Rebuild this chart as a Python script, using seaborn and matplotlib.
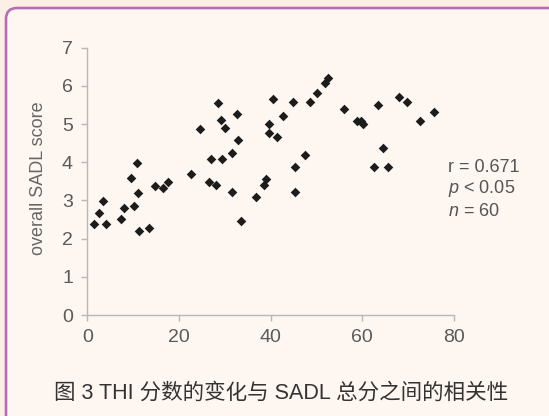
import matplotlib
matplotlib.use("Agg")
import matplotlib.pyplot as plt
from matplotlib.patches import FancyBboxPatch
from matplotlib.transforms import IdentityTransform
import seaborn as sns
import pandas as pd

# ---- data ----
thi_change = [1.5, 4.0, 2.6, 3.5, 7.4, 8.1, 9.6, 10.2, 10.9, 11.1, 11.3, 13.5,
              14.8, 16.5, 17.7, 22.6, 24.5, 26.5, 28.0, 27.0, 29.5, 28.6, 29.3,
              30.0, 32.6, 32.8, 31.7, 31.5, 33.5, 36.9, 38.6, 39.1, 39.7, 39.7,
              40.5, 45.0, 48.6, 50.1, 51.8, 52.6, 42.8, 41.5, 56.0, 58.9, 59.8,
              60.3, 63.5, 68.0, 69.9, 72.6, 75.6, 64.6, 62.6, 65.6, 47.6, 45.4,
              45.4]
sadl_score = [2.38, 2.38, 2.68, 2.99, 2.51, 2.79, 3.60, 2.85, 3.97, 3.20, 2.19,
              2.27, 3.38, 3.33, 3.49, 3.69, 4.87, 3.47, 3.40, 4.09, 4.09, 5.55,
              5.11, 4.89, 5.26, 4.58, 4.23, 3.23, 2.46, 3.09, 3.40, 3.55, 4.99,
              4.76, 5.65, 5.59, 5.59, 5.81, 6.08, 6.21, 5.22, 4.66, 5.39, 5.09,
              5.09, 4.99, 5.50, 5.70, 5.59, 5.09, 5.31, 4.37, 3.88, 3.88, 4.20,
              3.88, 3.22]
x_ticks = [0, 20, 40, 60, 80]
y_ticks = [0, 1, 2, 3, 4, 5, 6, 7]
y_label = "overall SADL score"
stats_lines = ["r = 0.671", "$p$ < 0.05", "$n$ = 60"]
caption = "图 3 THI 分数的变化与 SADL 总分之间的相关性"

df = pd.DataFrame({"thi": thi_change, "sadl": sadl_score})

sns.set_theme(style="ticks")
plt.rcParams["font.family"] = ["Liberation Sans", "Noto Sans CJK SC", "DejaVu Sans"]
plt.rcParams["mathtext.fontset"] = "custom"
plt.rcParams["mathtext.rm"] = "Liberation Sans"
plt.rcParams["mathtext.it"] = "Liberation Sans:italic"

W, H = 549, 416
fig = plt.figure(figsize=(W / 100, H / 100), dpi=100)
fig.patch.set_facecolor("#fcefe6")

frame = FancyBboxPatch((6, -60), 700, 408 + 60,
                       boxstyle="round,pad=0,rounding_size=11",
                       facecolor="#fdf6f1", edgecolor="#b56db5",
                       linewidth=1.9, transform=IdentityTransform(), zorder=0)
fig.add_artist(frame)

ax = fig.add_axes([87.3 / W, 1 - 315 / H, (453.7 - 87.3) / W, (315 - 47.7) / H])
ax.set_facecolor("none")

sns.scatterplot(data=df, x="thi", y="sadl", marker="D", s=24,
                color="#1c1c1c", linewidth=0, ax=ax, legend=False)

ax.set_xlim(0, 80)
ax.set_ylim(0, 7)
ax.set_xticks(x_ticks)
ax.set_yticks(y_ticks)
ax.set_xlabel("")
ax.set_ylabel(y_label, fontsize=13, color="#666666", va="center")
ax.yaxis.set_label_coords(38.5 / W, 1 - 178.5 / H, transform=fig.transFigure)

for s in ["top", "right"]:
    ax.spines[s].set_visible(False)
for s in ["left", "bottom"]:
    ax.spines[s].set_color("#b8b8b8")
    ax.spines[s].set_linewidth(1.0)
ax.tick_params(axis="both", direction="out", length=4.3, width=1.0,
               color="#b8b8b8", labelcolor="#5a5a5a", labelsize=14, pad=6)

for txt, yc in zip(stats_lines, [167.5, 188.5, 211.0]):
    fig.text(448 / W, 1 - yc / H, txt, ha="left", va="center",
             fontsize=13, color="#555555")

fig.text(281.5 / W, 1 - 393 / H, caption, ha="center", va="center",
         fontsize=15.5, color="#333333",
         family=["Liberation Sans", "Noto Sans CJK SC", "DejaVu Sans"])

fig.savefig("out.png", dpi=100, facecolor=fig.get_facecolor())
